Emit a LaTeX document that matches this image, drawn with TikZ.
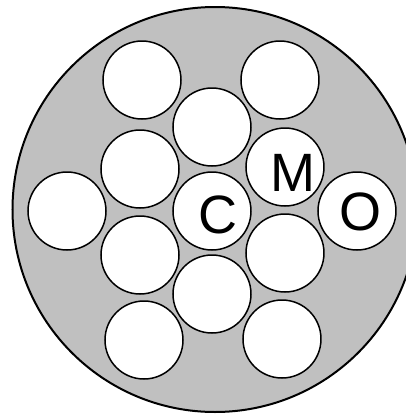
\documentclass[tikz,border=0pt]{standalone}
\usepackage{fontspec}
\setmainfont{Liberation Sans}
\usepackage{xcolor}
\definecolor{plateGrey}{HTML}{C0C0C0}

\tikzset{
  hole/.style={circle, draw=black, line width=0.75pt, fill=white, minimum size=39pt, inner sep=0pt},
  atomlabel/.style={inner sep=0pt, font=\fontsize{27}{27}\selectfont}
}

\begin{document}
\begin{tikzpicture}[x=0.5pt, y=-0.5pt]
  \useasboundingbox (0,0) rectangle (406,414);
  \clip (0,0) rectangle (406,414);
  \filldraw[fill=plateGrey, draw=black, line width=1pt] (215,209.5) circle [radius=101.25pt];
  \node[hole] (TL) at (142,80) {};
  \node[hole] (TR) at (280,80) {};
  \node[hole] (T) at (212,127) {};
  \node[hole] (UL) at (140,169) {};
  \node[hole] (M) at (285,167) {};
  \node[hole] (L) at (67,211) {};
  \node[hole] (C) at (212,211) {};
  \node[hole] (O) at (357,211) {};
  \node[hole] (LL) at (140,255) {};
  \node[hole] (LR) at (285,253) {};
  \node[hole] (B) at (212,294) {};
  \node[hole] (BL) at (144,340) {};
  \node[hole] (BR) at (282,339) {};
  \node[atomlabel] (Mtext) at (293,173) {M};
  \node[atomlabel] (Ctext) at (218,215) {C};
  \node[atomlabel] (Otext) at (361,212) {O};
\end{tikzpicture}
\end{document}
